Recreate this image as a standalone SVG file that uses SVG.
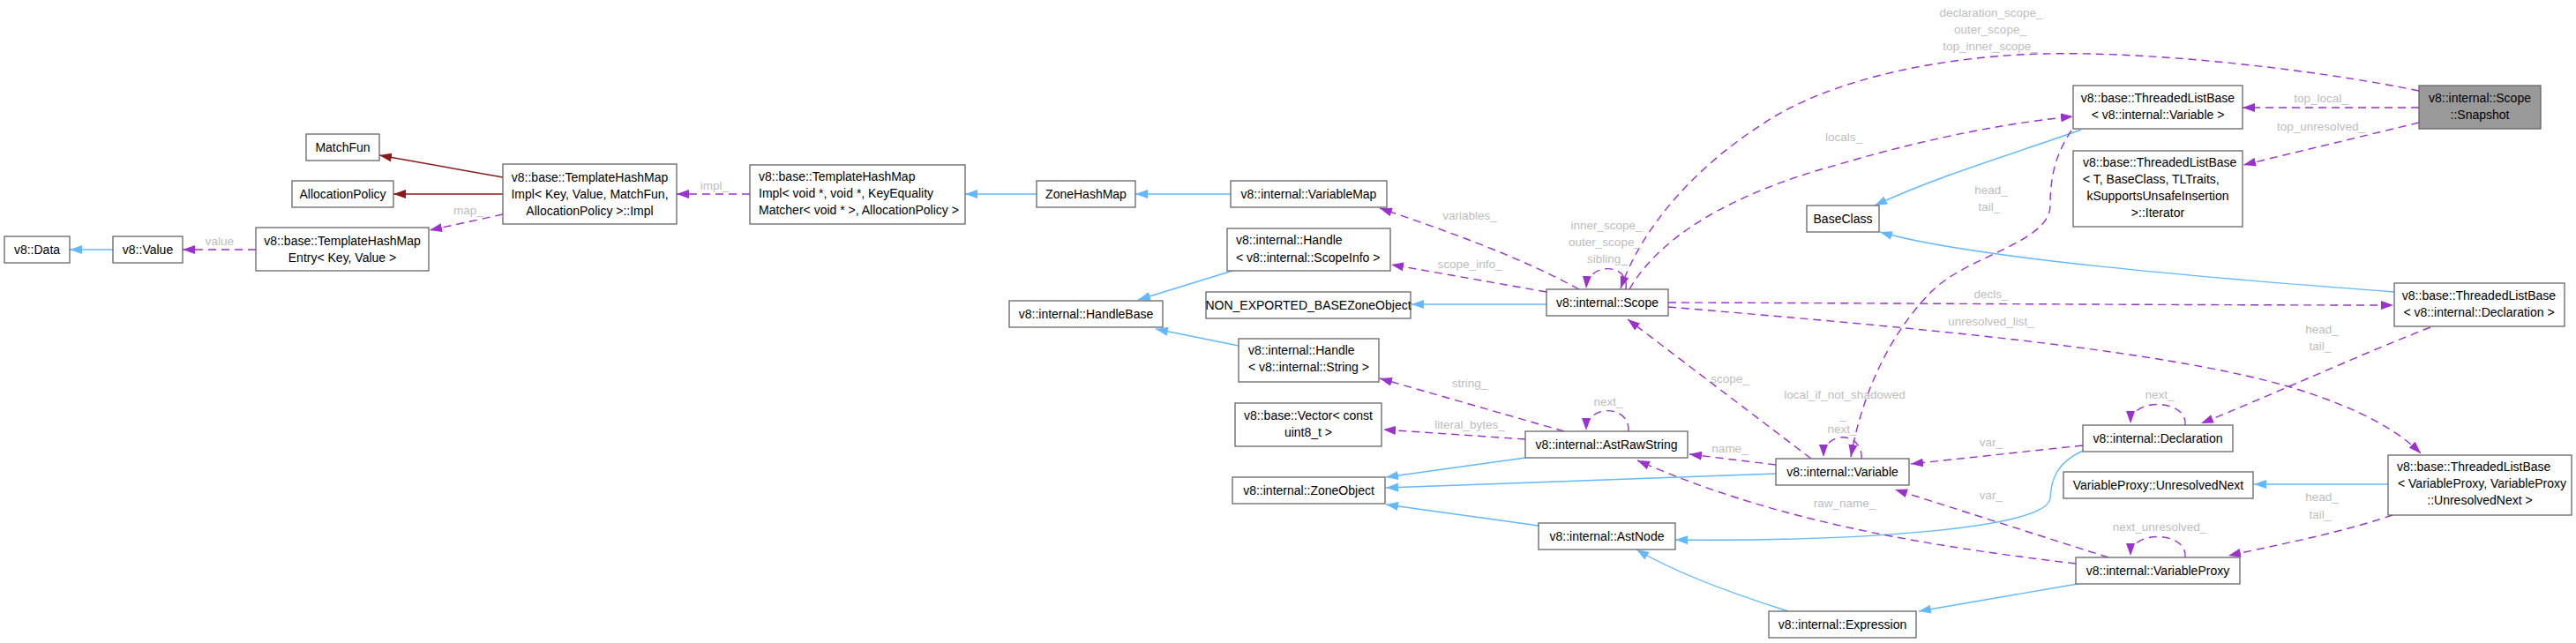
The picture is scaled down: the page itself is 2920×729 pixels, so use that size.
<svg xmlns="http://www.w3.org/2000/svg" width="2920" height="729" viewBox="0 0 2920 729">
<style>
.n rect{fill:#fff;stroke:#666;stroke-width:1.3}
.n text{font-family:"Liberation Sans",Arial,sans-serif;font-size:14px;fill:#000}
.c{text-anchor:middle}
.l{font-family:"Liberation Sans",Arial,sans-serif;font-size:13.5px;fill:#bdbdbd;text-anchor:middle}
.b{fill:none;stroke:#63B8FF;stroke-width:1.4;marker-end:url(#ab)}
.r{fill:none;stroke:#8B1A1A;stroke-width:1.4;marker-end:url(#ar)}
.d{fill:none;stroke:#9A32CD;stroke-width:1.4;stroke-dasharray:9,6;marker-end:url(#ap)}
</style>
<defs>
<marker id="ab" markerUnits="userSpaceOnUse" markerWidth="14" markerHeight="10" refX="14" refY="5" orient="auto"><path d="M0,0 L14,5 L0,10 z" fill="#63B8FF"/></marker>
<marker id="ar" markerUnits="userSpaceOnUse" markerWidth="14" markerHeight="10" refX="14" refY="5" orient="auto"><path d="M0,0 L14,5 L0,10 z" fill="#8B1A1A"/></marker>
<marker id="ap" markerUnits="userSpaceOnUse" markerWidth="14" markerHeight="10" refX="14" refY="5" orient="auto"><path d="M0,0 L14,5 L0,10 z" fill="#9A32CD"/></marker>
</defs>
<rect width="2920" height="729" fill="#fff"/>
<g id="edges">
<path class="b" d="M128,283 L79,283"/>
<path class="b" d="M1175,220 L1094,220"/>
<path class="b" d="M1395,220 L1287,220"/>
<path class="b" d="M1397,307 L1290,340"/>
<path class="b" d="M1404,392 L1310,373"/>
<path class="b" d="M1753,345 L1600,345"/>
<path class="b" d="M2359,147 C2290,172 2200,198 2125,233"/>
<path class="b" d="M2714,331 C2500,315 2230,292 2131,263"/>
<path class="b" d="M1729,519 L1571,541"/>
<path class="b" d="M2013,537 L1571,553"/>
<path class="b" d="M1744,596 L1571,572"/>
<path class="b" d="M2361,511 C2330,525 2325,545 2324,565 C2320,600 2100,614 1899,612"/>
<path class="b" d="M2027,693 C1970,675 1900,650 1855,623"/>
<path class="b" d="M2355,662 L2175,693"/>
<path class="b" d="M2707,549 L2555,549"/>
<path class="r" d="M570,201 L430,176"/>
<path class="r" d="M570,220 L446,220"/>
<path class="d" d="M570,243 L487,261"/>
<path class="d" d="M290,283 L207,283"/>
<path class="d" d="M850,220 L767,220"/>
<path class="d" d="M1790,328 C1720,290 1640,262 1564,236"/>
<path class="d" d="M1753,331 L1577,300"/>
<path class="d" d="M1843,328 C1848,298 1800,296 1798,327"/>
<path class="d" d="M2742,103 C2620,78 2420,55 2289,62 C2150,70 2050,105 1999,140 C1920,190 1860,260 1837,327"/>
<path class="d" d="M1847,328 C1880,270 1960,220 2082,187 C2200,152 2290,138 2350,132"/>
<path class="d" d="M2348,148 C2330,175 2324,200 2324,233 C2324,275 2230,290 2190,330 C2140,380 2110,450 2098,518"/>
<path class="d" d="M2742,122 L2542,122"/>
<path class="d" d="M2742,139 L2543,187"/>
<path class="d" d="M1891,343 C2200,344 2500,346 2713,346"/>
<path class="d" d="M1891,348 C2150,370 2450,395 2600,440 C2680,465 2720,490 2744,514"/>
<path class="d" d="M2755,371 C2680,400 2570,450 2495,480"/>
<path class="d" d="M2477,482 C2480,452 2415,450 2415,480"/>
<path class="d" d="M2361,505 L2166,526"/>
<path class="d" d="M2390,632 L2148,555"/>
<path class="d" d="M2353,639 C2150,615 2000,585 1856,522"/>
<path class="d" d="M2477,632 C2480,602 2415,600 2415,630"/>
<path class="d" d="M2712,584 C2650,605 2580,618 2526,630"/>
<path class="d" d="M2053,520 L1845,362"/>
<path class="d" d="M2013,527 L1915,515"/>
<path class="d" d="M2110,520 C2112,488 2067,488 2067,518"/>
<path class="d" d="M1846,489 C1848,458 1798,458 1798,488"/>
<path class="d" d="M1773,489 L1564,429"/>
<path class="d" d="M1729,498 L1568,487"/>
<text class="l" x="531" y="243">map_</text>
<text class="l" x="249" y="278">value</text>
<text class="l" x="810" y="215">impl_</text>
<text class="l" x="1666" y="249">variables_</text>
<text class="l" x="1666" y="304">scope_info_</text>
<text class="l" x="1821" y="260">inner_scope_</text>
<text class="l" x="1819" y="279">outer_scope_</text>
<text class="l" x="1822" y="298">sibling_</text>
<text class="l" x="2257" y="19">declaration_scope_</text>
<text class="l" x="2256" y="38">outer_scope_</text>
<text class="l" x="2256" y="57">top_inner_scope_</text>
<text class="l" x="2090" y="160">locals_</text>
<text class="l" x="2257" y="220">head_</text>
<text class="l" x="2255" y="239">tail_</text>
<text class="l" x="2631" y="116">top_local_</text>
<text class="l" x="2631" y="148">top_unresolved_</text>
<text class="l" x="2257" y="338">decls_</text>
<text class="l" x="2257" y="369">unresolved_list_</text>
<text class="l" x="2632" y="378">head_</text>
<text class="l" x="2630" y="397">tail_</text>
<text class="l" x="2448" y="452">next_</text>
<text class="l" x="2257" y="506">var_</text>
<text class="l" x="2257" y="566">var_</text>
<text class="l" x="2091" y="575">raw_name_</text>
<text class="l" x="2448" y="602">next_unresolved_</text>
<text class="l" x="2632" y="568">head_</text>
<text class="l" x="2630" y="588">tail_</text>
<text class="l" x="1961" y="434">scope_</text>
<text class="l" x="1961" y="513">name_</text>
<text class="l" x="2091" y="452">local_if_not_shadowed</text>
<text class="l" x="2089" y="475">_</text>
<text class="l" x="2088" y="491">next_</text>
<text class="l" x="1823" y="460">next_</text>
<text class="l" x="1666" y="439">string_</text>
<text class="l" x="1666" y="486">literal_bytes_</text>
</g>
<g id="snapshot" class="n"><rect x="2742" y="97" width="138" height="49" style="fill:#999"/><text class="c" x="2811" y="116">v8::internal::Scope</text><text class="c" x="2811" y="135">::Snapshot</text></g>
<g id="tlb_variable" class="n"><rect x="2350" y="97" width="192" height="49"/><text class="c" x="2446" y="116">v8::base::ThreadedListBase</text><text class="c" x="2446" y="135">&lt; v8::internal::Variable &gt;</text></g>
<g id="tlb_iterator" class="n"><rect x="2350" y="171" width="192" height="86"/><text x="2361" y="189">v8::base::ThreadedListBase</text><text x="2361" y="208">&lt; T, BaseClass, TLTraits,</text><text class="c" x="2446" y="227">kSupportsUnsafeInsertion</text><text class="c" x="2446" y="246">&gt;::Iterator</text></g>
<g id="tlb_declaration" class="n"><rect x="2714" y="321" width="193" height="49"/><text class="c" x="2810" y="340">v8::base::ThreadedListBase</text><text class="c" x="2810" y="359">&lt; v8::internal::Declaration &gt;</text></g>
<g id="tlb_variableproxy" class="n"><rect x="2707" y="516" width="208" height="68"/><text x="2717" y="534">v8::base::ThreadedListBase</text><text x="2718" y="553">&lt; VariableProxy, VariableProxy</text><text class="c" x="2811" y="572">::UnresolvedNext &gt;</text></g>
<g id="baseclass" class="n"><rect x="2048" y="233" width="82" height="30"/><text class="c" x="2089" y="253">BaseClass</text></g>
<g id="scope" class="n"><rect x="1753" y="328" width="138" height="30"/><text class="c" x="1822" y="348">v8::internal::Scope</text></g>
<g id="variablemap" class="n"><rect x="1395" y="205" width="177" height="30"/><text class="c" x="1483.5" y="225">v8::internal::VariableMap</text></g>
<g id="handle_scopeinfo" class="n"><rect x="1391" y="259" width="185" height="48"/><text x="1401" y="277">v8::internal::Handle</text><text x="1401" y="297">&lt; v8::internal::ScopeInfo &gt;</text></g>
<g id="non_exported" class="n"><rect x="1367" y="331" width="232" height="30"/><text class="c" x="1483" y="351">NON_EXPORTED_BASEZoneObject</text></g>
<g id="handlebase" class="n"><rect x="1144" y="341" width="174" height="30"/><text class="c" x="1231" y="361">v8::internal::HandleBase</text></g>
<g id="handle_string" class="n"><rect x="1404" y="384" width="159" height="49"/><text x="1415" y="402">v8::internal::Handle</text><text x="1415" y="421">&lt; v8::internal::String &gt;</text></g>
<g id="vector" class="n"><rect x="1400" y="457" width="166" height="49"/><text class="c" x="1483" y="476">v8::base::Vector&lt; const</text><text class="c" x="1483" y="495">uint8_t &gt;</text></g>
<g id="astrawstring" class="n"><rect x="1729" y="489" width="184" height="30"/><text class="c" x="1821" y="509">v8::internal::AstRawString</text></g>
<g id="zoneobject" class="n"><rect x="1397" y="541" width="173" height="30"/><text class="c" x="1483.5" y="561">v8::internal::ZoneObject</text></g>
<g id="variable" class="n"><rect x="2013" y="520" width="151" height="30"/><text class="c" x="2088.5" y="540">v8::internal::Variable</text></g>
<g id="astnode" class="n"><rect x="1744" y="593" width="155" height="30"/><text class="c" x="1821.5" y="613">v8::internal::AstNode</text></g>
<g id="expression" class="n"><rect x="2005" y="693" width="167" height="30"/><text class="c" x="2088.5" y="713">v8::internal::Expression</text></g>
<g id="declaration" class="n"><rect x="2361" y="482" width="170" height="30"/><text class="c" x="2446" y="502">v8::internal::Declaration</text></g>
<g id="unresolvednext" class="n"><rect x="2339" y="535" width="215" height="30"/><text class="c" x="2446.5" y="555">VariableProxy::UnresolvedNext</text></g>
<g id="variableproxy" class="n"><rect x="2353" y="632" width="186" height="30"/><text class="c" x="2446" y="652">v8::internal::VariableProxy</text></g>
<g id="zonehashmap" class="n"><rect x="1175" y="205" width="112" height="30"/><text class="c" x="1231" y="225">ZoneHashMap</text></g>
<g id="templatehashmapimpl_void" class="n"><rect x="850" y="187" width="244" height="67"/><text x="860" y="205">v8::base::TemplateHashMap</text><text x="860" y="224">Impl&lt; void *, void *, KeyEquality</text><text x="860" y="243">Matcher&lt; void * &gt;, AllocationPolicy &gt;</text></g>
<g id="templatehashmapimpl_key" class="n"><rect x="570" y="186" width="197" height="68"/><text class="c" x="668.5" y="206">v8::base::TemplateHashMap</text><text class="c" x="668.5" y="225">Impl&lt; Key, Value, MatchFun,</text><text class="c" x="668.5" y="244">AllocationPolicy &gt;::Impl</text></g>
<g id="matchfun" class="n"><rect x="347" y="152" width="83" height="30"/><text class="c" x="388.5" y="172">MatchFun</text></g>
<g id="allocationpolicy" class="n"><rect x="331" y="205" width="115" height="30"/><text class="c" x="388.5" y="225">AllocationPolicy</text></g>
<g id="templatehashmapentry" class="n"><rect x="290" y="258" width="196" height="49"/><text class="c" x="388" y="278">v8::base::TemplateHashMap</text><text class="c" x="388" y="297">Entry&lt; Key, Value &gt;</text></g>
<g id="value" class="n"><rect x="128" y="268" width="79" height="30"/><text class="c" x="167.5" y="288">v8::Value</text></g>
<g id="data" class="n"><rect x="5" y="268" width="74" height="30"/><text class="c" x="42" y="288">v8::Data</text></g>
</svg>
